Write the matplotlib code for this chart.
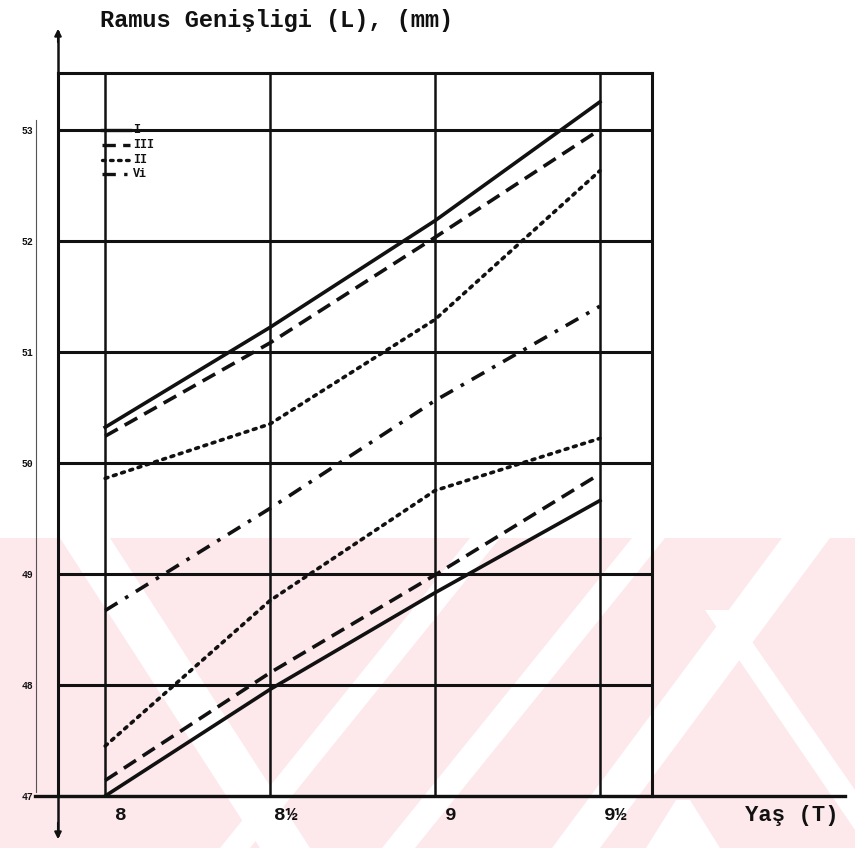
import matplotlib
matplotlib.use("Agg")
import matplotlib.pyplot as plt
import matplotlib.transforms as mtransforms
from matplotlib.lines import Line2D
from matplotlib.patches import Polygon

# values, at ages 8, 8½, 9, 9½
ages = [8, 8.5, 9, 9.5]
age_labels = ["8", "8½", "9", "9½"]
width_ticks = [47, 48, 49, 50, 51, 52, 53]

I_upper = [50.32, 51.22, 52.18, 53.25]
III_upper = [50.24, 51.08, 52.03, 53.00]
II_upper = [49.86, 50.35, 51.29, 52.63]
VI_mean = [48.67, 49.59, 50.56, 51.41]
II_lower = [47.45, 48.76, 49.75, 50.22]
III_lower = [47.14, 48.11, 48.99, 49.90]
I_lower = [47.00, 47.96, 48.83, 49.66]

legend_names = ["I", "III", "II", "Vi"]

W, H = 855, 848
MONO = ["Liberation Mono", "DejaVu Sans Mono"]
INK = "#111111"


def px(x, y):
    # pixel coords (y down) -> figure fraction
    return x / W, 1 - y / H


fig = plt.figure(figsize=(W / 100, H / 100), dpi=100, facecolor="white")

# pink scan watermark behind everything
pink = "#fde8ec"
band = [(0, 538), (855, 538), (855, 848), (0, 848)]
fig.patches.append(Polygon([px(*p) for p in band], closed=True, transform=fig.transFigure,
                           facecolor=pink, edgecolor="none", zorder=-3))
white_stripes = [
    [(60, 538), (110, 538), (310, 848), (260, 848)],
    [(470, 538), (500, 538), (250, 848), (220, 848)],
    [(632, 538), (665, 538), (415, 848), (382, 848)],
    [(782, 538), (830, 538), (600, 848), (552, 848)],
    [(705, 610), (730, 610), (855, 790), (855, 830)],
    [(676, 800), (690, 800), (720, 848), (646, 848)],
]
for s in white_stripes:
    fig.patches.append(Polygon([px(*p) for p in s], closed=True, transform=fig.transFigure,
                               facecolor="white", edgecolor="none", zorder=-2))

l, r, t, b = 58, 652, 73, 796
ax = fig.add_axes([l / W, 1 - b / H, (r - l) / W, (b - t) / H])
ax.set_facecolor("none")
ax.set_xlim(7.857, 9.658)
ax.set_ylim(47.0, 53.51)

for s in ax.spines.values():
    s.set_linewidth(2.2)
    s.set_color(INK)

for x in ages:
    ax.axvline(x, color=INK, lw=1.8, zorder=1)
for y in width_ticks[1:]:
    ax.axhline(y, color=INK, lw=2.2, zorder=1)

styles = {
    "I": dict(ls="-"),
    "III": dict(ls=(0, (4, 2.2))),
    "II": dict(ls=(0, (0.8, 1.6)), dash_capstyle="round"),
    "Vi": dict(ls=(0, (4, 2.5, 1, 2.5))),
}
series = [("I", I_upper), ("III", III_upper), ("II", II_upper), ("Vi", VI_mean),
          ("II", II_lower), ("III", III_lower), ("I", I_lower)]
for name, vals in series:
    ax.plot(ages, vals, color=INK, lw=2.6, zorder=3, **styles[name])

ax.set_xticks(ages)
ax.set_xticklabels(age_labels, family=MONO, fontweight="bold", fontsize=14)
ax.set_yticks(width_ticks)
ax.set_yticklabels([str(v) for v in width_ticks], family=MONO, fontweight="bold", fontsize=7)
ax.tick_params(axis="x", length=0, pad=8, colors=INK)
ax.tick_params(axis="y", length=0, pad=18, colors=INK)

# the typed age labels sit a little right of their grid lines
shift = mtransforms.ScaledTranslation(0.16, 0, fig.dpi_scale_trans)
for lab in ax.get_xticklabels():
    lab.set_transform(lab.get_transform() + shift)

# legend written by hand like the typed original
legend_y = [53.0, 52.86, 52.73, 52.60]
for name, ly in zip(legend_names, legend_y):
    ax.plot([7.99, 8.075], [ly, ly], color=INK, lw=2.4, zorder=4, **styles[name])
    ax.text(8.085, ly, name, family=MONO, fontweight="bold", fontsize=8.5,
            va="center", ha="left", color=INK)

# axis arrows and extended baseline
fig.add_artist(Line2D([px(58, 0)[0]] * 2, [px(0, 32)[1], px(0, 835)[1]],
                      color=INK, lw=1.8, transform=fig.transFigure))
ax.annotate("", xy=px(58, 26), xytext=px(58, 45), xycoords="figure fraction",
            arrowprops=dict(arrowstyle="-|>", color=INK, lw=1.5, mutation_scale=10))
ax.annotate("", xy=px(58, 842), xytext=px(58, 820), xycoords="figure fraction",
            arrowprops=dict(arrowstyle="-|>", color=INK, lw=1.5, mutation_scale=10))
fig.add_artist(Line2D([px(35, 0)[0], px(845, 0)[0]], [px(0, 796)[1]] * 2,
                      color=INK, lw=2.4, transform=fig.transFigure))
# faint scan edge left of the labels
fig.add_artist(Line2D([px(36, 0)[0]] * 2, [px(0, 120)[1], px(0, 792)[1]],
                      color="#555555", lw=0.8, transform=fig.transFigure))

fig.text(*px(100, 20), "Ramus Genişligi (L), (mm)", family=MONO, fontweight="bold",
         fontsize=17, ha="left", va="center", color=INK)
fig.text(*px(745, 816), "Yaş (T)", family=MONO, fontweight="bold",
         fontsize=16, ha="left", va="center", color=INK)

fig.savefig("out.png", dpi=100, facecolor="white")
